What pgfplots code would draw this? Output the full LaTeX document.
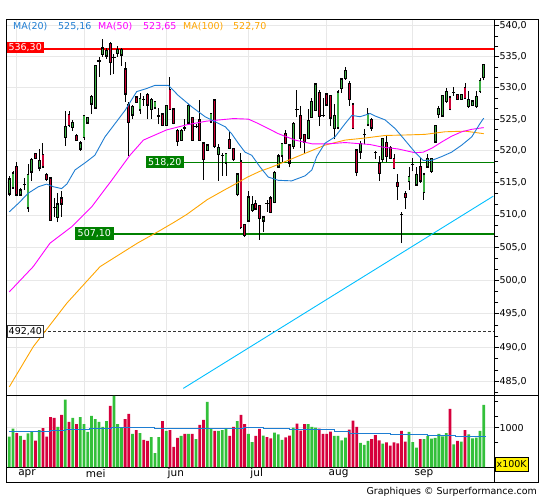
\documentclass[border=0pt]{standalone}
\usepackage{pgfplots}
\pgfplotsset{compat=1.18}
\usepackage{pgfplotstable}
\usepackage{fontspec}
\setmainfont{DejaVu Sans}
\definecolor{cg}{RGB}{60,176,67}
\definecolor{cr}{RGB}{204,0,51}
\definecolor{vg}{RGB}{51,192,58}
\definecolor{vr}{RGB}{214,0,60}
\definecolor{maA}{RGB}{30,125,210}
\definecolor{maB}{RGB}{255,0,255}
\definecolor{maC}{RGB}{255,165,0}
\definecolor{trend}{RGB}{0,191,255}
\definecolor{lg}{RGB}{0,128,0}
\definecolor{gridc}{RGB}{232,232,232}
\newcommand\f{\fontsize{9.5}{11}\selectfont}

% wicks: low and high of each day, nan = break
\pgfplotstableread[row sep=\\]{
i y\\
0 512.9\\0 516.0\\0 nan\\ 1 514.2\\1 516.8\\1 nan\\ 2 512.9\\2 518.2\\2 nan\\ 3 513.1\\3 514.2\\3 nan\\
4 513.9\\4 515.8\\4 nan\\ 5 510.5\\5 517.9\\5 nan\\ 6 515.3\\6 518.9\\6 nan\\ 7 518.7\\7 519.7\\7 nan\\
8 516.8\\8 520.3\\8 nan\\ 9 517.4\\9 521.3\\9 nan\\ 10 515.3\\10 516.6\\10 nan\\ 11 509.2\\11 515.8\\11 nan\\
12 509.7\\12 512.6\\12 nan\\ 13 508.9\\13 513.5\\13 nan\\ 14 509.7\\14 513.7\\14 nan\\ 15 520.8\\15 526.3\\15 nan\\
16 523.7\\16 526.3\\16 nan\\ 17 523.2\\17 524.8\\17 nan\\ 18 521.6\\18 522.6\\18 nan\\ 19 520.0\\19 521.6\\19 nan\\
20 521.7\\20 525.7\\20 nan\\ 21 524.3\\21 525.4\\21 nan\\ 22 525.8\\22 528.9\\22 nan\\ 23 526.6\\23 533.6\\23 nan\\
24 531.8\\24 535.0\\24 nan\\ 25 535.0\\25 537.9\\25 nan\\ 26 534.7\\26 536.5\\26 nan\\ 27 532.0\\27 537.4\\27 nan\\
28 532.2\\28 535.5\\28 nan\\ 29 535.0\\29 536.7\\29 nan\\ 30 533.5\\30 536.4\\30 nan\\ 31 527.8\\31 534.2\\31 nan\\
32 519.2\\32 527.8\\32 nan\\ 33 525.0\\33 527.3\\33 nan\\ 34 527.6\\34 528.7\\34 nan\\ 35 525.8\\35 529.2\\35 nan\\
36 527.1\\36 528.7\\36 nan\\ 37 525.0\\37 529.2\\37 nan\\ 38 525.0\\38 528.4\\38 nan\\ 39 526.6\\39 527.9\\39 nan\\
40 524.2\\40 526.8\\40 nan\\ 41 523.9\\41 525.9\\41 nan\\ 42 523.9\\42 527.3\\42 nan\\ 43 526.6\\43 531.8\\43 nan\\
44 524.2\\44 526.6\\44 nan\\ 45 520.8\\45 523.4\\45 nan\\ 46 521.6\\46 523.4\\46 nan\\ 47 523.2\\47 525.0\\47 nan\\
48 524.2\\48 527.4\\48 nan\\ 49 521.6\\49 525.4\\49 nan\\ 50 523.6\\50 524.2\\50 nan\\ 51 521.6\\51 528.0\\51 nan\\
52 515.5\\52 521.2\\52 nan\\ 53 520.1\\53 520.9\\53 nan\\ 54 524.5\\54 526.0\\54 nan\\ 55 520.5\\55 528.2\\55 nan\\
56 515.3\\56 521.1\\56 nan\\ 57 516.1\\57 519.6\\57 nan\\ 58 516.1\\58 519.6\\58 nan\\ 59 520.3\\59 522.9\\59 nan\\
60 518.4\\60 520.5\\60 nan\\ 61 512.9\\61 516.6\\61 nan\\ 62 507.9\\62 519.7\\62 nan\\ 63 506.6\\63 508.7\\63 nan\\
64 509.1\\64 513.7\\64 nan\\ 65 510.5\\65 512.9\\65 nan\\ 66 510.8\\66 512.4\\66 nan\\ 67 506.2\\67 511.6\\67 nan\\
68 507.4\\68 509.7\\68 nan\\ 69 510.5\\69 512.4\\69 nan\\ 70 510.3\\70 512.9\\70 nan\\ 71 511.8\\71 516.8\\71 nan\\
72 517.4\\72 519.5\\72 nan\\ 73 518.2\\73 521.3\\73 nan\\ 74 521.05\\74 523.3\\74 nan\\ 75 517.4\\75 520.9\\75 nan\\
76 520.3\\76 524.5\\76 nan\\ 77 525.3\\77 529.7\\77 nan\\ 78 520.5\\78 527.1\\78 nan\\ 79 519.5\\79 522.6\\79 nan\\
80 521.8\\80 526.6\\80 nan\\ 81 525.3\\81 528.4\\81 nan\\ 82 526.3\\82 530.8\\82 nan\\ 83 523.9\\83 529.7\\83 nan\\
84 525.3\\84 528.4\\84 nan\\ 85 527.1\\85 529.2\\85 nan\\ 86 523.9\\86 528.9\\86 nan\\ 87 521.8\\87 527.4\\87 nan\\
88 523.4\\88 529.7\\88 nan\\ 89 529.2\\89 531.6\\89 nan\\ 90 531.3\\90 533.4\\90 nan\\ 91 527.1\\91 531.05\\91 nan\\
92 523.4\\92 527.4\\92 nan\\ 93 516.05\\93 520.1\\93 nan\\ 94 518.7\\94 521.6\\94 nan\\ 95 521.05\\95 523.4\\95 nan\\
96 523.9\\96 526.8\\96 nan\\ 97 523.2\\97 525.2\\97 nan\\ 98 518.7\\98 520.0\\98 nan\\ 99 515.3\\99 519.2\\99 nan\\
100 518.2\\100 522.1\\100 nan\\ 101 518.2\\101 522.4\\101 nan\\ 102 518.8\\102 520.8\\102 nan\\ 103 517.1\\103 519.5\\103 nan\\
104 512.4\\104 516.4\\104 nan\\ 105 505.7\\105 510.5\\105 nan\\ 106 510.9\\106 513.8\\106 nan\\ 107 513.9\\107 517.4\\107 nan\\
108 516.8\\108 518.9\\108 nan\\ 109 514.7\\109 517.4\\109 nan\\ 110 515.0\\110 518.9\\110 nan\\ 111 512.4\\111 516.6\\111 nan\\
112 517.4\\112 519.5\\112 nan\\ 113 516.6\\113 518.9\\113 nan\\ 114 521.3\\114 524.05\\114 nan\\ 115 525.2\\115 527.1\\115 nan\\
116 525.5\\116 528.9\\116 nan\\ 117 527.6\\117 529.9\\117 nan\\ 118 526.4\\118 528.7\\118 nan\\ 119 528.7\\119 530.1\\119 nan\\
120 528.1\\120 528.9\\120 nan\\ 121 528.1\\121 529.0\\121 nan\\ 122 528.2\\122 530.8\\122 nan\\ 123 526.8\\123 529.5\\123 nan\\
124 527.1\\124 528.1\\124 nan\\ 125 526.8\\125 529.5\\125 nan\\ 126 529.2\\126 531.6\\126 nan\\ 127 531.2\\127 533.8\\127 nan\\
}\wick

% rising days: open and close
\pgfplotstableread[row sep=\\]{
i y\\
0 513.4\\0 515.5\\0 nan\\ 1 514.3\\1 516.4\\1 nan\\ 3 513.2\\3 513.8\\3 nan\\ 5 511.2\\5 516.2\\5 nan\\
6 516.8\\6 518.5\\6 nan\\ 8 517.4\\8 518.4\\8 nan\\ 13 509.7\\13 511.6\\13 nan\\ 15 522.2\\15 523.7\\15 nan\\
17 523.8\\17 524.4\\17 nan\\ 19 520.4\\19 521.1\\19 nan\\ 20 522.2\\20 525.5\\20 nan\\ 21 524.5\\21 525.2\\21 nan\\
22 527.5\\22 528.5\\22 nan\\ 23 526.9\\23 533.5\\23 nan\\ 25 535.5\\25 536.3\\25 nan\\ 26 535.2\\26 535.9\\26 nan\\
29 535.6\\29 536.1\\29 nan\\ 30 535.4\\30 536.0\\30 nan\\ 33 525.8\\33 526.9\\33 nan\\ 35 526.6\\35 528.2\\35 nan\\
38 526.7\\38 528.0\\38 nan\\ 39 526.9\\39 527.7\\39 nan\\ 42 524.1\\42 527.1\\42 nan\\ 46 521.7\\46 523.1\\46 nan\\
48 524.5\\48 527.1\\48 nan\\ 53 520.2\\53 520.8\\53 nan\\ 54 524.7\\54 525.8\\54 nan\\ 56 519.5\\56 520.4\\56 nan\\
58 518.2\\58 519.5\\58 nan\\ 61 513.3\\61 516.3\\61 nan\\ 64 509.2\\64 512.7\\64 nan\\ 65 510.8\\65 511.5\\65 nan\\
68 509.2\\68 509.6\\68 nan\\ 71 512.0\\71 516.5\\71 nan\\ 72 517.6\\72 519.1\\72 nan\\ 73 519.3\\73 521.05\\73 nan\\
76 520.8\\76 524.2\\76 nan\\ 80 522.1\\80 524.7\\80 nan\\ 81 525.4\\81 527.7\\81 nan\\ 82 526.5\\82 530.5\\82 nan\\
87 523.6\\87 525.5\\87 nan\\ 88 523.7\\88 529.2\\88 nan\\ 89 530.0\\89 531.3\\89 nan\\ 90 531.6\\90 532.7\\90 nan\\
94 519.9\\94 521.05\\94 nan\\ 96 524.2\\96 525.8\\96 nan\\ 100 518.8\\100 521.8\\100 nan\\ 107 515.3\\107 515.9\\107 nan\\
109 514.8\\109 516.2\\109 nan\\ 111 513.6\\111 516.3\\111 nan\\ 112 517.6\\112 518.7\\112 nan\\ 113 516.9\\113 518.7\\113 nan\\
114 521.5\\114 523.9\\114 nan\\ 115 525.9\\115 526.6\\115 nan\\ 116 525.6\\116 528.7\\116 nan\\ 117 527.9\\117 529.3\\117 nan\\
121 528.3\\121 528.8\\121 nan\\ 123 527.1\\123 528.0\\123 nan\\ 124 527.3\\124 527.8\\124 nan\\ 125 527.1\\125 528.5\\125 nan\\
126 529.5\\126 531.05\\126 nan\\ 127 531.8\\127 533.6\\127 nan\\
}\bodyG

% falling days: open and close
\pgfplotstableread[row sep=\\]{
i y\\
2 517.4\\2 513.2\\2 nan\\ 7 519.5\\7 518.9\\7 nan\\ 9 519.3\\9 517.6\\9 nan\\ 10 516.2\\10 515.6\\10 nan\\
11 515.6\\11 509.3\\11 nan\\ 14 512.5\\14 511.8\\14 nan\\ 16 525.6\\16 524.1\\16 nan\\ 18 522.3\\18 521.7\\18 nan\\
27 537.0\\27 534.2\\27 nan\\ 31 532.9\\31 529.1\\31 nan\\ 32 527.2\\32 524.6\\32 nan\\ 34 528.4\\34 527.8\\34 nan\\
37 528.8\\37 527.4\\37 nan\\ 41 525.7\\41 524.1\\41 nan\\ 43 529.6\\43 526.7\\43 nan\\ 44 526.5\\44 524.4\\44 nan\\
45 523.1\\45 521.6\\45 nan\\ 49 525.2\\49 521.7\\49 nan\\ 51 524.8\\51 521.7\\51 nan\\ 52 521.1\\52 518.7\\52 nan\\
55 527.9\\55 520.8\\55 nan\\ 59 521.7\\59 520.5\\59 nan\\ 60 520.3\\60 518.7\\60 nan\\ 62 518.3\\62 508.2\\62 nan\\
63 508.4\\63 507.0\\63 nan\\ 66 511.7\\66 511.05\\66 nan\\ 67 511.4\\67 509.6\\67 nan\\ 70 512.5\\70 510.5\\70 nan\\
74 522.6\\74 521.3\\74 nan\\ 75 520.8\\75 518.2\\75 nan\\ 78 525.5\\78 522.1\\78 nan\\ 79 522.5\\79 521.5\\79 nan\\
83 529.1\\83 525.5\\83 nan\\ 85 528.9\\85 527.4\\85 nan\\ 86 528.7\\86 525.3\\86 nan\\ 91 530.6\\91 528.2\\91 nan\\
92 527.3\\92 523.6\\92 nan\\ 93 520.0\\93 516.7\\93 nan\\ 97 524.8\\97 523.7\\97 nan\\ 99 518.0\\99 516.6\\99 nan\\
101 521.2\\101 519.2\\101 nan\\ 102 520.4\\102 518.9\\102 nan\\ 103 518.7\\103 517.3\\103 nan\\ 104 514.9\\104 514.5\\104 nan\\
106 513.2\\106 512.8\\106 nan\\ 110 517.4\\110 515.4\\110 nan\\ 118 528.4\\118 526.7\\118 nan\\ 120 528.8\\120 528.3\\120 nan\\
122 529.9\\122 528.4\\122 nan\\
}\bodyR

% days with open = close
\pgfplotstableread{
i p
4 514.8
12 511.2
24 534.3
28 534.9
36 528.1
40 525.5
47 523.6
50 523.8
57 519.3
69 511.8
77 526.5
84 525.6
95 522.6
98 519.7
105 510.1
108 517.9
119 529.2
}\doji

% level lines and trend line
\pgfplotstableread{
i p
-0.7 536.3
129.84 536.3
}\lvlA
\pgfplotstableread{
i p
46.6 518.2
129.84 518.2
}\lvlB
\pgfplotstableread{
i p
27.8 507.1
129.84 507.1
}\lvlC
\pgfplotstableread{
i p
9.1 492.4
129.84 492.4
}\lvlD
\pgfplotstableread{
i p
46.58 483.98
129.57 512.93
}\trendline

\pgfplotstableread{
i V
0 772
1 975
3 789
5 857
6 899
8 941
13 1018
15 1713
17 1247
19 1272
20 1094
21 891
22 1298
23 1221
24 1145
25 1018
26 1170
28 1810
29 1094
30 992
33 840
35 865
38 763
39 356
40 763
42 916
46 789
48 840
50 712
53 1654
54 992
56 916
57 941
58 992
61 1170
64 840
65 636
68 800
71 874
72 831
73 687
76 1001
80 1094
81 1018
82 1001
87 789
88 789
89 679
90 746
94 611
95 560
96 662
100 594
107 891
108 636
109 492
111 712
112 789
113 721
114 738
115 840
116 780
117 865
119 577
121 645
123 831
124 730
125 746
126 916
127 1578
}\vG

\pgfplotstableread{
i V
2 865
4 687
7 670
9 992
10 772
11 1272
12 1247
14 1323
16 1145
18 1094
27 1552
31 1221
32 1349
34 941
36 687
37 662
41 1170
43 941
44 509
45 738
47 840
49 840
51 1069
52 1196
55 916
59 789
60 1018
62 1323
63 1094
66 789
67 967
69 760
70 729
74 755
75 797
77 1103
78 925
79 1094
83 975
84 840
85 840
86 899
91 950
92 1179
93 1018
97 712
98 814
99 679
101 628
102 543
103 628
104 602
105 916
106 645
110 712
118 1476
120 662
122 941
}\vR

\pgfplotstableread{
i p
0 510.5
2.4 511.8
5.1 513.4
7.8 514.4
10.0 514.8
11.8 514.4
14.0 514.1
15.4 514.8
17.6 517.0
20.7 518.3
22.9 519.3
25.6 522.2
28.3 524.3
31.0 526.4
34.1 529.4
36.8 529.9
39.0 530.4
42.6 530.4
45.2 528.8
48.8 527.0
52.4 525.4
55.1 524.6
57.8 523.8
59.5 522.7
61.3 521.2
63.1 519.8
64.9 519.3
67.1 517.5
69.3 515.9
72.0 515.4
75.6 515.3
79.2 516.1
81.0 517.0
82.3 519.1
84.5 521.2
87.2 522.2
89.9 524.3
91.7 525.6
93.9 525.4
96.6 525.9
97.9 525.5
100.6 524.9
103.3 523.5
105.9 521.7
108.6 519.8
110.8 518.5
113.1 518.5
115.8 519.1
118.4 519.8
121.1 520.9
123.8 522.2
126.0 524.3
127 525.16
}\maA

\pgfplotstableread{
i p
0 498.3
6.4 502.1
10.9 505.7
16.7 508.2
22.1 511.3
27.4 515.4
32.3 519.3
35.9 521.7
42.1 523.3
47.5 524.1
52.8 524.7
60.0 525.1
64.0 525.0
66.7 524.3
72.0 522.7
76.5 521.7
81.0 521.1
85.4 521.1
89.9 521.3
96.6 521.0
99.7 520.6
104.1 520.3
108.6 519.7
110.8 519.8
113.1 520.4
115.8 521.4
118.4 522.3
121.1 523.0
123.8 523.4
127 523.65
}\maB

\pgfplotstableread{
i p
0 484.2
6.4 490.1
15.4 496.6
24.3 502.1
34.3 505.7
40.3 507.6
44.4 509.0
47.5 510.1
53.0 512.4
57.3 513.8
60.2 514.7
63.8 515.9
67.1 516.8
70.0 517.4
73.8 518.3
79.2 519.6
84.5 520.9
89.9 521.7
95.2 522.0
100.6 522.4
105.9 522.5
111.3 522.6
116.6 523.0
122.0 523.1
127 522.7
}\maC

\pgfplotstableread{
i v
0 907
11 935
15 955
21.6 983
27.4 1005
38.8 983
43.6 992
50.2 967
52.6 983
62.7 1005
68 985
75 958
87 907
91 857
102 831
112 797
119.5 780
127.5 780
}\volma

\begin{document}
\begin{tikzpicture}
\path[use as bounding box] (0pt,0pt) rectangle (545pt,500pt);

% ---------------- price panel: logarithmic price scale (natural log of the price)
\begin{axis}[
  at={(6.7pt,104.3pt)}, anchor=south west,
  width=487.6pt, height=376.2pt, scale only axis,
  xmin=-0.7, xmax=129.84,
  ymin=6.179789, ymax=6.293493,
  xtick={2,20,42,64,85,108}, xticklabels={},
  ytick={6.184149,6.194405,6.204558,6.214608,6.224558,6.234411,6.244167,6.253829,6.263398,6.272877,6.282267,6.291569},
  yticklabels={{485,0},{490,0},{495,0},{500,0},{505,0},{510,0},{515,0},{520,0},{525,0},{530,0},{535,0},{540,0}},
  minor ytick={6.180707,6.187580,6.190997,6.197800,6.201185,6.207920,6.211269,6.217936,6.221252,6.227853,6.231137,6.237674,6.240925,6.247398,6.250619,6.257029,6.260218,6.266568,6.269727,6.276017,6.279146,6.285378,6.288477},
  ytick pos=right, yticklabel pos=right,
  tick align=outside,
  major tick length=5pt, minor tick length=4pt,
  tick style={black, line width=0.8pt},
  xtick style={draw=none},
  grid=major, major grid style={gridc, line width=0.8pt},
  axis line style={line width=1pt},
  yticklabel style={font=\f, anchor=west, inner sep=0pt},
  scaled y ticks=false,
  unbounded coords=jump,
]
% level lines
\addplot[red, line width=2pt] table[x=i, y expr=ln(\thisrow{p})] {\lvlA};
\addplot[lg, line width=1.2pt] table[x=i, y expr=ln(\thisrow{p})] {\lvlB};
\addplot[lg, line width=2pt] table[x=i, y expr=ln(\thisrow{p})] {\lvlC};
\addplot[black!80, line width=0.7pt, dash pattern=on 3pt off 2pt] table[x=i, y expr=ln(\thisrow{p})] {\lvlD};
\addplot[trend, line width=0.9pt] table[x=i, y expr=ln(\thisrow{p})] {\trendline};
% candles
\addplot[black, line width=0.9pt] table[x=i, y expr=ln(\thisrow{y})] {\wick};
\addplot[black, line width=2.8pt, line cap=rect] table[x=i, y expr=ln(\thisrow{y})] {\bodyG};
\addplot[cg, line width=1.2pt] table[x=i, y expr=ln(\thisrow{y})] {\bodyG};
\addplot[black, line width=2.8pt, line cap=rect] table[x=i, y expr=ln(\thisrow{y})] {\bodyR};
\addplot[cr, line width=1.2pt] table[x=i, y expr=ln(\thisrow{y})] {\bodyR};
\addplot[only marks, mark=-, mark size=1.6pt, mark options={black, line width=1.2pt}] table[x=i, y expr=ln(\thisrow{p})] {\doji};
% moving averages
\addplot[maC, line width=0.9pt] table[x=i, y expr=ln(\thisrow{p})] {\maC};
\addplot[maB, line width=0.9pt] table[x=i, y expr=ln(\thisrow{p})] {\maB};
\addplot[maA, line width=0.9pt] table[x=i, y expr=ln(\thisrow{p})] {\maA};
\end{axis}

% ---------------- volume panel
\begin{axis}[
  at={(6.7pt,33pt)}, anchor=south west,
  width=487.6pt, height=71.3pt, scale only axis,
  xmin=-0.7, xmax=129.84, ymin=0, ymax=1814,
  xtick={2,20,42,64,85,108}, xticklabels={},
  ytick={1000}, yticklabels={1000},
  minor ytick={628,1280,1662},
  ytick pos=right, yticklabel pos=right,
  tick align=outside,
  major tick length=5pt, minor tick length=4pt,
  tick style={black, line width=0.8pt},
  xtick style={draw=none},
  grid=major, major grid style={gridc, line width=0.8pt},
  axis line style={line width=1pt},
  yticklabel style={font=\f, anchor=west, inner sep=0pt},
  clip=false,
]
\addplot[ybar, bar width=2.8pt, bar shift=0pt, fill=vg, draw=none] table[x=i, y=V] {\vG};
\addplot[ybar, bar width=2.8pt, bar shift=0pt, fill=vr, draw=none] table[x=i, y=V] {\vR};
\addplot[const plot, maA, line width=1pt] table[x=i, y=v] {\volma};
\node[anchor=west, inner sep=0pt, font=\fontsize{10.5}{12}\selectfont] at (axis cs:2.35,-178) {apr};
\node[anchor=west, inner sep=0pt, font=\fontsize{10.5}{12}\selectfont] at (axis cs:20.45,-178) {mei};
\node[anchor=west, inner sep=0pt, font=\fontsize{10.5}{12}\selectfont] at (axis cs:42.35,-178) {jun};
\node[anchor=west, inner sep=0pt, font=\fontsize{10.5}{12}\selectfont] at (axis cs:64.5,-178) {jul};
\node[anchor=west, inner sep=0pt, font=\fontsize{10.5}{12}\selectfont] at (axis cs:85.45,-178) {aug};
\node[anchor=west, inner sep=0pt, font=\fontsize{10.5}{12}\selectfont] at (axis cs:108.45,-178) {sep};
\end{axis}

% ---------------- frame
\draw[line width=1pt] (6.7pt,18pt) rectangle (538.5pt,480.5pt);
\draw[line width=1pt] (494.3pt,104.3pt) -- (538.5pt,104.3pt);
\draw[line width=1pt] (494.3pt,18pt) -- (494.3pt,480.5pt);
\draw[fill=yellow, draw=black, line width=0.8pt] (495pt,29pt) rectangle (528.3pt,42.3pt);
\node[font=\f, inner sep=0pt] at (511.65pt,35.65pt) {x100K};

% ---------------- legend
\node[anchor=west, inner sep=0pt, font=\f, text=maA] at (13pt,473pt) {MA(20)};
\node[anchor=west, inner sep=0pt, font=\f, text=maA] at (58pt,473pt) {525,16};
\node[anchor=west, inner sep=0pt, font=\f, text=maB] at (98pt,473pt) {MA(50)};
\node[anchor=west, inner sep=0pt, font=\f, text=maB] at (143pt,473pt) {523,65};
\node[anchor=west, inner sep=0pt, font=\f, text=maC] at (183pt,473pt) {MA(100)};
\node[anchor=west, inner sep=0pt, font=\f, text=maC] at (233pt,473pt) {522,70};

% ---------------- level labels
\node[anchor=west, fill=red, text=white, inner sep=0pt, minimum width=36.6pt, minimum height=11.5pt, font=\f] at (6.7pt,452.7pt) {536,30};
\node[anchor=west, fill=lg, text=white, inner sep=0pt, minimum width=37.3pt, minimum height=12.5pt, font=\f] at (146pt,337.8pt) {518,20};
\node[anchor=west, fill=lg, text=white, inner sep=0pt, minimum width=38.3pt, minimum height=12.5pt, font=\f] at (75pt,266.7pt) {507,10};
\node[anchor=west, fill=white, draw=black!80, line width=0.7pt, text=black, inner sep=0pt, minimum width=36.6pt, minimum height=11.5pt, font=\f] at (6.7pt,168.8pt) {492,40};

% ---------------- credit
\node[anchor=east, inner sep=0pt, font=\f] at (537pt,8.3pt) {Graphiques © Surperformance.com};
\end{tikzpicture}
\end{document}
